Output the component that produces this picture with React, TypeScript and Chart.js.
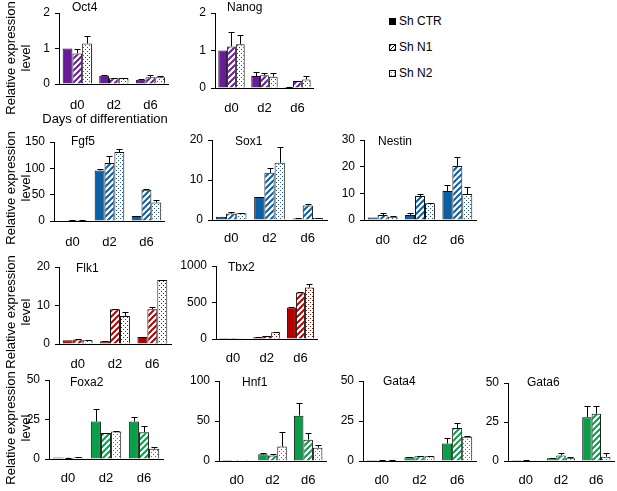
import React, { useEffect, useRef } from 'react';
import { Chart, registerables } from 'chart.js';
Chart.register(...registerables);

const FONT = '"Liberation Sans", Arial, Helvetica, sans-serif';

const days = ['d0', 'd2', 'd6'];
const seriesNames = ['Sh CTR', 'Sh N1', 'Sh N2'];

// values: [Sh CTR, Sh N1, Sh N2], each over days d0, d2, d6
const oct4Values = [[1.0, 0.23, 0.12], [0.86, 0.16, 0.19], [1.14, 0.17, 0.19]];
const oct4Errors = [[0, 0.01, 0.01], [0.14, 0.01, 0.05], [0.21, 0.01, 0.04]];
const nanogValues = [[1.0, 0.32, 0.03], [1.11, 0.34, 0.19], [1.17, 0.3, 0.23]];
const nanogErrors = [[0, 0.11, 0.01], [0.39, 0.07, 0.01], [0.25, 0.09, 0.1]];
const fgf5Values = [[1, 96, 9.5], [2, 110, 59.5], [2, 131, 35]];
const fgf5Errors = [[0, 3, 0.5], [0.3, 13, 1], [0.3, 5, 4]];
const sox1Values = [[0.8, 5.75, 0.35], [1.6, 11.8, 3.6], [1.7, 14.3, 0.5]];
const sox1Errors = [[0, 0.1, 0.05], [0.5, 1.1, 0.4], [0.1, 3.9, 0.1]];
const nestinValues = [[0.9, 1.9, 10.9], [1.9, 9.0, 20.25], [1.25, 6.25, 9.75]];
const nestinErrors = [[0, 0.6, 2.2], [0.6, 0.6, 3.5], [0.2, 0.3, 2.6]];
const flk1Values = [[1.0, 0.7, 1.8], [1.2, 9.0, 9.0], [0.95, 7.3, 16.6]];
const flk1Errors = [[0, 0.05, 0.1], [0.1, 0.1, 0.5], [0.05, 1.1, 0.1]];
const tbx2Values = [[1, 23, 432], [1.5, 41, 636], [2, 91, 705]];
const tbx2Errors = [[0, 2, 6], [0.3, 3, 8], [0.5, 5, 50]];
const foxa2Values = [[1.0, 23.7, 23.7], [0.8, 16.4, 17.0], [1.0, 17.4, 6.5]];
const foxa2Errors = [[0, 7.8, 2.8], [0.1, 0.1, 3.8], [0.2, 0.2, 0.9]];
const hnf1Values = [[1.2, 8.3, 56.7], [0.5, 7.0, 26.7], [0.3, 18, 16.7]];
const hnf1Errors = [[0, 1.7, 15.4], [0.1, 2.0, 7.9], [0.1, 18.7, 3.3]];
const gata4Values = [[0.6, 2.3, 10.9], [0.4, 2.9, 20.7], [0.4, 2.9, 15.1]];
const gata4Errors = [[0, 0.3, 3.5], [0.1, 0.3, 3.2], [0.1, 0.4, 0.5]];
const gata6Values = [[0.6, 1.7, 28.1], [0.3, 3.6, 30.3], [0.1, 1.7, 2.8]];
const gata6Errors = [[0, 0.2, 6.9], [0.1, 1.8, 4.7], [0.1, 1.1, 2.6]];

const PURPLE = '#6a1b9a';
const BLUE = '#0b5fa5';
const RED = '#b30000';
const GREEN = '#0a9d4a';

type PanelCfg = {
  name: string; values: number[][]; errors: number[][]; color: string;
  max: number; step: number;
  x0: number; x1: number; yTop: number; yZero: number; pad: number; dx: number; dy: number;
};

const panels: PanelCfg[] = [
  { name: 'Oct4', values: oct4Values, errors: oct4Errors, color: PURPLE, max: 2, step: 1, x0: 59, x1: 170, yTop: 13, yZero: 84, pad: 14, dx: 13, dy: -5 },
  { name: 'Nanog', values: nanogValues, errors: nanogErrors, color: PURPLE, max: 2, step: 1, x0: 215, x1: 316, yTop: 13, yZero: 88, pad: 13, dx: 12, dy: -5 },
  { name: 'Fgf5', values: fgf5Values, errors: fgf5Errors, color: BLUE, max: 150, step: 50, x0: 54, x1: 166, yTop: 142, yZero: 221, pad: 14, dx: 17, dy: 0 },
  { name: 'Sox1', values: sox1Values, errors: sox1Errors, color: BLUE, max: 20, step: 10, x0: 212, x1: 327, yTop: 140, yZero: 220, pad: 11, dx: 23, dy: 2 },
  { name: 'Nestin', values: nestinValues, errors: nestinErrors, color: BLUE, max: 30, step: 10, x0: 364, x1: 476, yTop: 140, yZero: 220, pad: 13, dx: 14, dy: 2 },
  { name: 'Flk1', values: flk1Values, errors: flk1Errors, color: RED, max: 20, step: 10, x0: 59, x1: 171, yTop: 267, yZero: 344, pad: 13, dx: 17, dy: 2 },
  { name: 'Tbx2', values: tbx2Values, errors: tbx2Errors, color: RED, max: 1000, step: 500, x0: 216, x1: 318, yTop: 266, yZero: 339, pad: 12, dx: 12, dy: 2 },
  { name: 'Foxa2', values: foxa2Values, errors: foxa2Errors, color: GREEN, max: 50, step: 25, x0: 49, x1: 163, yTop: 380, yZero: 459, pad: 12, dx: 21, dy: 3 },
  { name: 'Hnf1', values: hnf1Values, errors: hnf1Errors, color: GREEN, max: 100, step: 50, x0: 219, x1: 326, yTop: 381, yZero: 461, pad: 12, dx: 23, dy: 2 },
  { name: 'Gata4', values: gata4Values, errors: gata4Errors, color: GREEN, max: 50, step: 25, x0: 363, x1: 476, yTop: 381, yZero: 461, pad: 12, dx: 20, dy: 1 },
  { name: 'Gata6', values: gata6Values, errors: gata6Errors, color: GREEN, max: 50, step: 25, x0: 508, x1: 614, yTop: 383, yZero: 461, pad: 12, dx: 19, dy: 0 },
];

const Y_W = 40;
const TOP_PAD = 14;
const X_H = 30;
const RIGHT_PAD = 2;

function stripePattern(color: string) {
  const c = document.createElement('canvas');
  c.width = 6; c.height = 6;
  const g = c.getContext('2d')!;
  g.fillStyle = '#fff'; g.fillRect(0, 0, 6, 6);
  g.strokeStyle = color; g.lineWidth = 2;
  g.beginPath();
  g.moveTo(0, 6); g.lineTo(6, 0);
  g.moveTo(-3, 3); g.lineTo(3, -3);
  g.moveTo(3, 9); g.lineTo(9, 3);
  g.stroke();
  return g.createPattern(c, 'repeat');
}

function dotPattern(color: string) {
  const c = document.createElement('canvas');
  c.width = 4; c.height = 4;
  const g = c.getContext('2d')!;
  g.fillStyle = '#fff'; g.fillRect(0, 0, 4, 4);
  g.fillStyle = color;
  g.fillRect(0, 0, 1, 1);
  g.fillRect(2, 2, 1, 1);
  return g.createPattern(c, 'repeat');
}

const errorBarPlugin = {
  id: 'errorBars',
  afterDatasetsDraw(chart: any, _args: any, opts: any) {
    const ctx = chart.ctx;
    const ys = chart.scales.y;
    ctx.save();
    ctx.strokeStyle = '#000';
    ctx.lineWidth = 1;
    chart.data.datasets.forEach((ds: any, i: number) => {
      const meta = chart.getDatasetMeta(i);
      meta.data.forEach((el: any, j: number) => {
        const e = opts.errors[i][j];
        if (!e) return;
        const v = ds.data[j];
        const top = Math.round(ys.getPixelForValue(v + e)) + 0.5;
        const x = Math.round(el.x) + 0.5;
        ctx.beginPath();
        ctx.moveTo(x, el.y);
        ctx.lineTo(x, top);
        ctx.moveTo(x - 3, top);
        ctx.lineTo(x + 3, top);
        ctx.stroke();
      });
    });
    ctx.restore();
  },
};

const geneLabelPlugin = {
  id: 'geneLabel',
  afterDraw(chart: any, _args: any, opts: any) {
    const { ctx, chartArea } = chart;
    ctx.save();
    ctx.font = `12px ${FONT}`;
    ctx.fillStyle = '#000';
    ctx.textAlign = 'left';
    ctx.textBaseline = 'middle';
    ctx.fillText(opts.text, chartArea.left + opts.dx, chartArea.top + opts.dy);
    ctx.restore();
  },
};

function Panel({ cfg }: { cfg: PanelCfg }) {
  const ref = useRef<HTMLCanvasElement>(null);
  const width = cfg.x1 - cfg.x0 + Y_W + RIGHT_PAD;
  const height = cfg.yZero - cfg.yTop + TOP_PAD + X_H;
  useEffect(() => {
    const fills = [cfg.color, stripePattern(cfg.color), dotPattern(cfg.color)];
    const chart = new Chart(ref.current!, {
      type: 'bar',
      data: {
        labels: days,
        datasets: cfg.values.map((vals, i) => ({
          label: seriesNames[i],
          data: vals,
          backgroundColor: fills[i] as any,
          borderColor: '#111',
          borderWidth: 1,
          categoryPercentage: 0.8,
          barPercentage: 1.0,
        })),
      },
      options: {
        responsive: false,
        animation: false,
        devicePixelRatio: 1,
        layout: { padding: { top: TOP_PAD, right: RIGHT_PAD, left: 0, bottom: 0 } },
        plugins: {
          legend: { display: false },
          tooltip: { enabled: false },
          title: { display: false },
          errorBars: { errors: cfg.errors },
          geneLabel: { text: cfg.name, dx: cfg.dx, dy: cfg.dy },
        } as any,
        scales: {
          x: {
            grid: { display: false, drawTicks: false },
            border: { display: true, color: '#000', width: 1 },
            ticks: { color: '#000', font: { family: FONT, size: 13 }, padding: cfg.pad, maxRotation: 0 },
            afterFit: (s: any) => { s.height = X_H; },
          },
          y: {
            min: 0,
            max: cfg.max,
            grid: { drawOnChartArea: false, drawTicks: true, tickLength: 4, color: '#000' },
            border: { display: true, color: '#000', width: 1 },
            ticks: {
              stepSize: cfg.step, color: '#000', font: { family: FONT, size: 12 }, padding: 5,
              callback: (v: any) => String(v),
            },
            afterFit: (s: any) => { s.width = Y_W; },
          },
        },
      },
      plugins: [errorBarPlugin, geneLabelPlugin],
    });
    return () => chart.destroy();
  }, []);
  return (
    <canvas
      ref={ref}
      width={width}
      height={height}
      style={{ position: 'absolute', left: cfg.x0 - Y_W, top: cfg.yTop - TOP_PAD, width, height }}
    />
  );
}

const rowTitleCenters = [58, 188, 312, 428];

function YTitle({ cy }: { cy: number }) {
  return (
    <div
      style={{
        position: 'absolute', left: 18, top: cy,
        transform: 'translate(-50%, -50%) rotate(-90deg)',
        fontFamily: FONT, fontSize: 13, lineHeight: '15px',
        textAlign: 'center', whiteSpace: 'nowrap', color: '#000',
      }}
    >
      Relative expression<br />level
    </div>
  );
}

const legendIcons = [
  { background: '#000', border: '1px solid #000' },
  { background: 'repeating-linear-gradient(135deg, #000 0 1px, #fff 1px 3px)', border: '1px solid #000' },
  { background: 'radial-gradient(circle, #777 0.5px, #fff 1px) 0 0 / 3px 3px', border: '1px solid #000' },
];
const legendY = [21, 47, 73];

export default function App() {
  return (
    <div style={{ position: 'absolute', left: 0, top: 0, width: 617, height: 491, overflow: 'hidden', background: '#fff' }}>
      {panels.map((p) => <Panel key={p.name} cfg={p} />)}
      {rowTitleCenters.map((cy, i) => <YTitle key={i} cy={cy} />)}
      <div style={{ position: 'absolute', left: 105, top: 118, transform: 'translate(-50%, -50%)', fontFamily: FONT, fontSize: 13, whiteSpace: 'nowrap', color: '#000' }}>
        Days of differentiation
      </div>
      {seriesNames.map((n, i) => (
        <div key={n} style={{ position: 'absolute', left: 389, top: legendY[i] - 8, height: 16, display: 'flex', alignItems: 'center', fontFamily: FONT, fontSize: 12, color: '#000', whiteSpace: 'nowrap' }}>
          <span style={{ display: 'inline-block', width: 5, height: 5, marginRight: 3, ...legendIcons[i] }} />
          {n}
        </div>
      ))}
    </div>
  );
}
